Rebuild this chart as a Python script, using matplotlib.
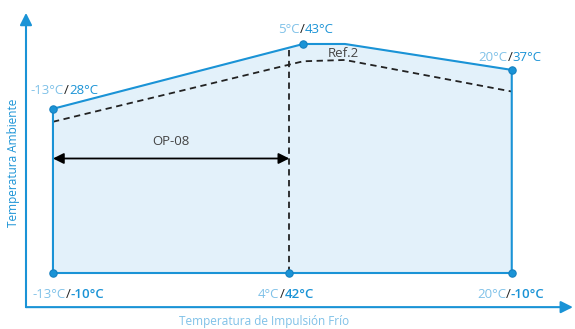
import matplotlib
matplotlib.use("Agg")
import matplotlib.pyplot as plt

# operating envelope (cold supply temp, ambient temp)
env_x = [-13, -13, 5, 8, 20, 20]
env_y = [-10, 28, 43, 43, 37, -10]
point_x = [-13, 5, 20, -13, 4, 20]
point_y = [28, 43, 37, -10, -10, -10]
ref_x = [-13, 5, 8, 20]
ref_y = [25, 39, 39.3, 32]
op_x = [-13, 4]
op_y = 16.5
split_x = 4
split_top = 42.2

labels = [("-13°C", "28°C"), ("5°C", "43°C"), ("20°C", "37°C"),
          ("-13°C", "-10°C"), ("4°C", "42°C"), ("20°C", "-10°C")]

BLUE = "#1a93d6"
LIGHT = "#7fc1e8"
FILL = "#e3f1fa"

plt.rcParams["font.family"] = ["Open Sans", "DejaVu Sans"]

fig = plt.figure(figsize=(5.75, 3.29), dpi=100)
ax = fig.add_axes([0, 0, 1, 1])
ax.set_xlim(-16.81, 24.55)
ax.set_ylim(-22.96, 53.18)
ax.axis("off")

ax.fill(env_x, env_y, color=FILL, zorder=1)
ax.plot(env_x + [env_x[0]], env_y + [env_y[0]], color=BLUE, lw=1.5, zorder=3)
ax.plot(ref_x, ref_y, color="#222222", lw=1.3, ls=(0, (3.5, 2.5)), zorder=2)
ax.plot([split_x, split_x], [-10, split_top], color="#222222", lw=1.3,
        ls=(0, (3.5, 2.5)), zorder=2)
ax.scatter(point_x, point_y, s=28, color=BLUE, edgecolor="#1580c0",
           linewidth=0.8, zorder=4)

# OP-08 double arrow
ax.annotate("", xy=(op_x[0], op_y), xytext=(op_x[1], op_y),
            arrowprops=dict(arrowstyle="<|-|>", color="black", lw=1.3,
                            mutation_scale=16, shrinkA=0, shrinkB=0), zorder=5)
ax.text(sum(op_x) / 2, op_y + 2.4, "OP-08", ha="center", va="bottom",
        fontsize=9.5, color="#444444")
ax.text(7.9, 40.9, "Ref.2", ha="center", va="center", fontsize=9.5,
        color="#444444")

# axes arrows
ax.annotate("", xy=(-14.94, 50.2), xytext=(-14.94, -17.9),
            arrowprops=dict(arrowstyle="-|>", color=BLUE, lw=1.5,
                            mutation_scale=18, shrinkA=0, shrinkB=0))
ax.annotate("", xy=(24.4, -17.9), xytext=(-14.94, -17.9),
            arrowprops=dict(arrowstyle="-|>", color=BLUE, lw=1.5,
                            mutation_scale=18, shrinkA=0, shrinkB=0),
            annotation_clip=False)

ax.text(-15.85, 15.5, "Temperatura Ambiente", rotation=90, ha="center",
        va="center", fontsize=8.5, color=BLUE)
ax.text(2.2, -21.2, "Temperatura de Impulsión Frío", ha="center",
        va="center", fontsize=8.5, color=LIGHT)

# point labels: light part, dark slash, blue part
label_pos = [(-14.6, 32.2), (3.2, 46.4), (17.6, 39.8),
             (-14.5, -15.0), (1.75, -15.0), (17.5, -15.0)]
for i, ((a, b), (lx, ly)) in enumerate(zip(labels, label_pos)):
    weight = "semibold" if i >= 3 else "normal"
    t1 = ax.text(lx, ly, a, fontsize=9.5, color=LIGHT, va="center", ha="left")
    t2 = ax.annotate("/", xy=(1, 0), xycoords=t1, va="bottom", ha="left",
                     fontsize=9.5, color="#222222")
    ax.annotate(b, xy=(1, 0), xycoords=t2, va="bottom", ha="left",
                fontsize=9.5, color=BLUE, fontweight=weight)

fig.savefig("out.png", dpi=100)
